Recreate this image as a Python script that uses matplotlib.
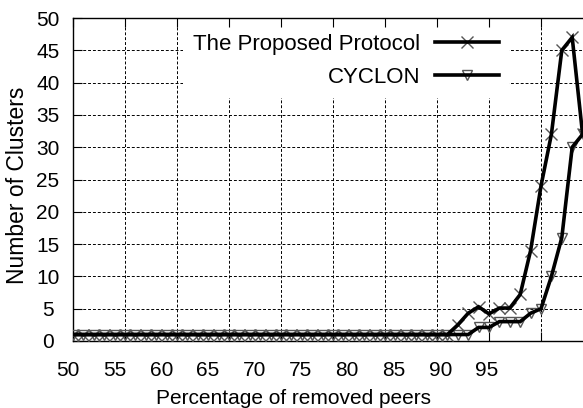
import matplotlib
matplotlib.use("Agg")
import matplotlib.pyplot as plt
from matplotlib.legend_handler import HandlerTuple
from matplotlib.transforms import offset_copy

plt.rcParams['font.family'] = ['Liberation Sans', 'DejaVu Sans']

# Percentage of removed peers (one sample per percent)
removed = list(range(50, 100))

# Number of clusters, the proposed protocol
proposed = [1] * 37 + [2.5, 4.3, 5.3, 4.2, 5.1, 5.1, 7.2, 14, 24, 32, 45, 47, 32]

# Number of clusters, CYCLON
cyclon = [1] * 39 + [2.1, 2.1, 3, 3, 3, 4.3, 5, 10, 16, 30, 32]

x_ticks = [50, 55, 60, 65, 70, 75, 80, 85, 90, 95]
y_ticks = [0, 5, 10, 15, 20, 25, 30, 35, 40, 45, 50]

W, H = 583, 408
fig = plt.figure(figsize=(W / 100, H / 100), dpi=100)
left, right, bottom, top = 73, 593, 341, 18
rect = [left / W, 1 - bottom / H, (right - left) / W, (bottom - top) / H]
ax = fig.add_axes(rect)

ax.set_xlim(50, 100)
ax.set_ylim(0, 50)

marker_col = '#555555'
lw = 2.6
m1, = ax.plot(removed, proposed, linestyle='none', marker='x', markersize=8.5,
              markeredgewidth=1.0, color=marker_col, zorder=3)
l1, = ax.plot(removed, proposed, color='black', linewidth=lw, zorder=4,
              solid_joinstyle='miter')
m2, = ax.plot(removed, cyclon, linestyle='none', marker='v', markersize=7.5,
              markeredgewidth=1.0, markerfacecolor='none', markeredgecolor=marker_col, zorder=3)
l2, = ax.plot(removed, cyclon, color='black', linewidth=lw, zorder=4,
              solid_joinstyle='miter')

# grid and ticks
ax.set_xticks(x_ticks)
ax.set_yticks(y_ticks)
ax.grid(True, color='black', linestyle=(0, (3, 2)), linewidth=0.7)
ax.set_axisbelow(True)
ax.tick_params(axis='both', direction='in', length=6.5, width=0.8,
               top=False, right=False, labelsize=15)
ax.tick_params(axis='x', labelbottom=False)
for lab in ax.get_yticklabels():
    lab.set_horizontalalignment('center')
ax.tick_params(axis='y', pad=18)
for s in ax.spines.values():
    s.set_linewidth(1.0)
ax.spines['right'].set_visible(False)

# x tick labels drawn on a slightly compressed spacing
tr = offset_copy(ax.get_xaxis_transform(), fig=fig, x=0, y=-29 * 0.72, units='points')
for k, v in enumerate(x_ticks):
    ax.text(49.55 + k * 4.47, 0, str(v), transform=tr, ha='center', va='center',
            fontsize=15, clip_on=False)

ax.set_xlabel('Percentage of removed peers', fontsize=15)
ax.xaxis.set_label_coords((293 - left) / (right - left), -(398 - bottom) / (bottom - top))
ax.xaxis.label.set_verticalalignment('center')
ax.set_ylabel('Number of Clusters', fontsize=16.5)
ax.yaxis.set_label_coords(-(73 - 18) / (right - left), (bottom - 185) / (bottom - top))
ax.yaxis.label.set_verticalalignment('center')

leg = ax.legend([(m1, l1), (m2, l2)], ['The Proposed Protocol', 'CYCLON'],
                handler_map={tuple: HandlerTuple(ndivide=1)},
                loc='upper right', bbox_to_anchor=(509 / W, 1 - 24 / H),
                bbox_transform=fig.transFigure, markerfirst=False,
                fontsize=16, frameon=True, fancybox=False, framealpha=1,
                edgecolor='none', facecolor='white', borderaxespad=0,
                handlelength=2.9, handletextpad=0.63, labelspacing=0.55,
                borderpad=0.45)
leg.set_zorder(5)
for t in leg.get_texts():
    t.set_horizontalalignment('right')

# overlay carrying the top border and its inward ticks above the key box
top_ax = fig.add_axes(rect, frameon=False)
top_ax.patch.set_visible(False)
top_ax.set_xlim(ax.get_xlim())
top_ax.set_ylim(ax.get_ylim())
top_ax.set_xticks(x_ticks)
top_ax.set_yticks([])
top_ax.tick_params(axis='x', direction='in', length=6.5, width=0.8,
                   top=True, bottom=False, labeltop=False, labelbottom=False)
top_ax.spines['top'].set_visible(True)
top_ax.spines['top'].set_linewidth(1.0)

fig.savefig('out.png', dpi=100)
